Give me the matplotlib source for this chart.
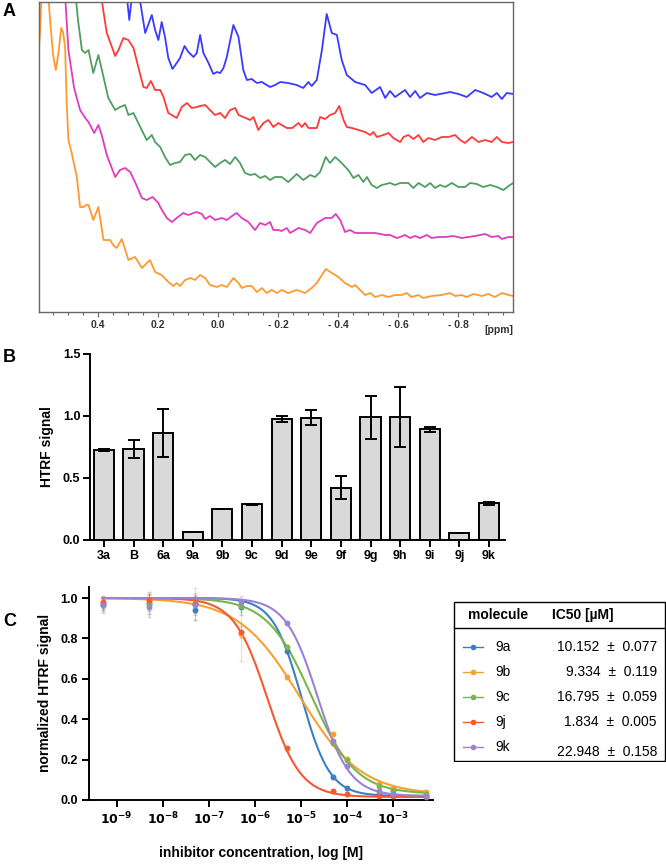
import matplotlib
matplotlib.use('Agg')
import matplotlib.pyplot as plt
import numpy as np
from matplotlib.patches import Rectangle
from matplotlib.lines import Line2D
from matplotlib.ticker import FixedLocator, MultipleLocator

plt.rcParams['font.family'] = ['Liberation Sans', 'DejaVu Sans']

# ---------------- Panel A: NMR spectra (ppm, intensity a.u.) ----------------
blue_ppm = [0.310, 0.296, 0.282, 0.266, 0.243, 0.221, 0.210, 0.199, 0.188, 0.177, 0.166, 0.152, 0.138, 0.127,
            0.112, 0.099, 0.082, 0.071, 0.060, 0.049, 0.032, 0.016, 0.004, -0.007, -0.018, -0.029, -0.051,
            -0.068, -0.084, -0.096, -0.112, -0.129, -0.146, -0.162, -0.173, -0.190, -0.207, -0.233, -0.262,
            -0.284, -0.301, -0.312, -0.329, -0.346, -0.362, -0.379, -0.396, -0.412, -0.429, -0.457, -0.490,
            -0.512, -0.540, -0.557, -0.573, -0.590, -0.623, -0.640, -0.657, -0.673, -0.696, -0.723, -0.757,
            -0.773, -0.801, -0.829, -0.857, -0.884, -0.912, -0.929, -0.946, -0.962, -0.984]
blue_int = [332, 292, 332, 322, 279, 297, 282, 272, 290, 275, 254, 243, 249, 254,
            266, 260, 255, 259, 277, 259, 249, 238, 240, 239, 244, 255, 287,
            275, 242, 232, 233, 229, 230, 227, 225, 227, 230, 229, 227,
            224, 230, 226, 232, 262, 298, 279, 277, 252, 237, 230, 227,
            219, 225, 214, 221, 215, 222, 215, 221, 214, 219, 217, 219,
            220, 218, 215, 222, 219, 215, 219, 213, 219, 218]

red_ppm = [0.397, 0.383, 0.371, 0.343, 0.332, 0.316, 0.299, 0.282, 0.266, 0.249, 0.238, 0.224, 0.210, 0.193,
           0.182, 0.166, 0.149, 0.138, 0.121, 0.104, 0.088, 0.071, 0.060, 0.043, 0.027, 0.010, -0.007,
           -0.023, -0.040, -0.057, -0.068, -0.084, -0.107, -0.118, -0.134, -0.151, -0.168, -0.184, -0.201,
           -0.212, -0.229, -0.247, -0.268, -0.279, -0.290, -0.301, -0.329, -0.340, -0.357, -0.373, -0.390,
           -0.404, -0.418, -0.429, -0.446, -0.468, -0.490, -0.507, -0.518, -0.529, -0.551, -0.568, -0.584,
           -0.607, -0.618, -0.634, -0.651, -0.668, -0.684, -0.701, -0.723, -0.746, -0.768, -0.790, -0.807,
           -0.823, -0.846, -0.868, -0.890, -0.912, -0.929, -0.946, -0.968, -0.984]
red_int = [332, 302, 279, 256, 262, 274, 272, 264, 245, 225, 224, 231, 222, 222,
           215, 199, 196, 194, 205, 209, 204, 205, 206, 207, 202, 197, 199,
           194, 202, 204, 197, 195, 192, 195, 182, 189, 192, 185, 189,
           187, 184, 184, 189, 185, 189, 184, 184, 195, 193, 197, 199,
           206, 192, 185, 184, 182, 180, 177, 180, 175, 177, 179, 174,
           170, 175, 177, 173, 177, 170, 174, 172, 175, 175, 177, 172,
           169, 175, 170, 172, 170, 175, 170, 169, 170]

green_ppm = [0.480, 0.467, 0.454, 0.443, 0.432, 0.416, 0.399, 0.382, 0.366, 0.343, 0.327, 0.310, 0.299, 0.282,
             0.266, 0.238, 0.221, 0.210, 0.193, 0.177, 0.160, 0.143, 0.127, 0.110, 0.093, 0.077, 0.060,
             0.043, 0.027, 0.010, -0.007, -0.023, -0.040, -0.057, -0.073, -0.090, -0.107, -0.123, -0.140,
             -0.157, -0.173, -0.190, -0.212, -0.234, -0.262, -0.284, -0.307, -0.323, -0.340, -0.359, -0.373,
             -0.390, -0.412, -0.434, -0.451, -0.468, -0.484, -0.496, -0.512, -0.529, -0.546, -0.573, -0.590,
             -0.607, -0.634, -0.651, -0.668, -0.690, -0.707, -0.723, -0.740, -0.757, -0.779, -0.801, -0.823,
             -0.840, -0.862, -0.884, -0.907, -0.929, -0.951, -0.973, -0.984]
green_int = [332, 292, 262, 259, 262, 239, 257, 235, 214, 202, 205, 207, 197, 199,
             189, 172, 177, 170, 165, 155, 147, 149, 150, 157, 158, 152, 157,
             155, 150, 145, 149, 152, 148, 155, 149, 139, 137, 138, 134,
             136, 132, 135, 135, 130, 138, 132, 137, 135, 140, 155, 149,
             155, 149, 142, 134, 137, 130, 135, 127, 124, 127, 129, 127,
             129, 129, 124, 129, 125, 129, 124, 127, 125, 129, 125, 125,
             129, 128, 125, 127, 125, 122, 127, 129]

mag_ppm = [0.513, 0.499, 0.480, 0.460, 0.443, 0.432, 0.413, 0.399, 0.388, 0.371, 0.343, 0.327, 0.310, 0.293,
           0.277, 0.254, 0.238, 0.218, 0.199, 0.193, 0.171, 0.154, 0.138, 0.116, 0.099, 0.082, 0.071,
           0.054, 0.043, 0.027, 0.010, -0.012, -0.029, -0.051, -0.062, -0.079, -0.101, -0.123, -0.140,
           -0.157, -0.173, -0.184, -0.201, -0.212, -0.229, -0.240, -0.268, -0.290, -0.307, -0.329, -0.357,
           -0.379, -0.392, -0.407, -0.423, -0.440, -0.457, -0.490, -0.523, -0.557, -0.573, -0.596, -0.607,
           -0.623, -0.640, -0.657, -0.673, -0.696, -0.712, -0.734, -0.757, -0.784, -0.812, -0.834, -0.857,
           -0.890, -0.912, -0.934, -0.946, -0.968, -0.984]
mag_int = [332, 262, 224, 202, 194, 190, 179, 187, 177, 157, 135, 142, 144, 140,
           130, 114, 112, 115, 109, 105, 94, 90, 94, 99, 97, 99, 100,
           98, 93, 96, 92, 94, 92, 97, 99, 94, 90, 82, 89,
           87, 90, 82, 82, 81, 84, 79, 84, 82, 79, 89, 94,
           94, 98, 92, 80, 82, 79, 79, 79, 77, 77, 74, 75,
           77, 74, 76, 74, 77, 74, 75, 75, 76, 74, 75, 76,
           78, 75, 76, 73, 75, 75]

orange_ppm = [0.599, 0.593, 0.587, 0.570, 0.560, 0.550, 0.541, 0.533, 0.523, 0.517, 0.510, 0.505, 0.499, 0.488,
              0.471, 0.460, 0.449, 0.440, 0.432, 0.416, 0.399, 0.382, 0.360, 0.350, 0.338, 0.321, 0.299,
              0.277, 0.254, 0.227, 0.210, 0.188, 0.166, 0.149, 0.138, 0.127, 0.110, 0.093, 0.077, 0.060,
              0.043, 0.027, 0.004, -0.012, -0.029, -0.051, -0.068, -0.079, -0.096, -0.112, -0.129, -0.146,
              -0.162, -0.179, -0.196, -0.212, -0.234, -0.262, -0.290, -0.312, -0.329, -0.346, -0.359, -0.379,
              -0.401, -0.423, -0.446, -0.457, -0.473, -0.490, -0.507, -0.523, -0.546, -0.568, -0.590, -0.611,
              -0.629, -0.644, -0.668, -0.684, -0.712, -0.746, -0.773, -0.790, -0.812, -0.829, -0.851, -0.879,
              -0.901, -0.923, -0.946, -0.968, -0.984]
orange_int = [256, 282, 332, 332, 292, 257, 242, 257, 284, 280, 265, 212, 172, 159,
              135, 105, 105, 107, 107, 92, 105, 72, 72, 67, 64, 73, 52,
              55, 44, 52, 40, 37, 30, 26, 29, 26, 32, 34, 32, 37,
              34, 27, 25, 27, 25, 34, 29, 24, 26, 26, 20, 24,
              19, 22, 19, 22, 19, 22, 19, 24, 29, 37, 43, 39,
              35, 29, 25, 27, 22, 17, 19, 15, 17, 15, 17, 17,
              19, 15, 17, 14, 16, 17, 19, 16, 17, 15, 18, 16,
              18, 15, 19, 17, 16]

# ---------------- Panel B: HTRF bar chart ----------------
b_labels = ['3a', 'B', '6a', '9a', '9b', '9c', '9d', '9e', '9f', '9g', '9h', '9i', '9j', '9k']
b_values = [0.726, 0.734, 0.865, 0.067, 0.247, 0.288, 0.973, 0.987, 0.422, 0.989, 0.989, 0.892, 0.059, 0.296]
b_errors = [0.010, 0.073, 0.195, 0.0, 0.0, 0.006, 0.025, 0.063, 0.094, 0.173, 0.242, 0.019, 0.0, 0.010]

# ---------------- Panel C: dose-response ----------------
molecules = ['9a', '9b', '9c', '9j', '9k']
conc_M = [5e-10, 5e-9, 5e-8, 5e-7, 5e-6, 5e-5, 1e-4, 5e-4, 1e-3, 5e-3]
resp_9a = [0.965, 0.970, 0.940, 0.955, 0.740, 0.115, 0.060, 0.030, 0.050, 0.020]
resp_9b = [0.975, 0.980, 0.970, 0.820, 0.610, 0.325, 0.205, 0.080, 0.060, 0.040]
resp_9c = [0.970, 0.975, 0.975, 0.960, 0.755, 0.280, 0.200, 0.070, 0.050, 0.030]
resp_9j = [0.980, 0.990, 0.970, 0.830, 0.255, 0.045, 0.030, 0.020, 0.020, 0.015]
resp_9k = [0.965, 0.955, 0.965, 0.980, 0.875, 0.290, 0.170, 0.045, 0.030, 0.020]
err_9a = [0.03, 0.05, 0.05, 0.04, 0.01, 0.01, 0.01, 0.01, 0.01, 0.01]
err_9b = [0.03, 0.04, 0.08, 0.13, 0.01, 0.01, 0.01, 0.01, 0.01, 0.01]
err_9c = [0.03, 0.04, 0.05, 0.03, 0.01, 0.01, 0.01, 0.01, 0.01, 0.01]
err_9j = [0.03, 0.04, 0.04, 0.03, 0.01, 0.01, 0.01, 0.01, 0.01, 0.01]
err_9k = [0.04, 0.05, 0.05, 0.03, 0.01, 0.01, 0.01, 0.01, 0.01, 0.01]
ic50_uM = [10.152, 9.334, 16.795, 1.834, 22.948]
ic50_sd = [0.077, 0.119, 0.059, 0.005, 0.158]
hill = [1.4, 0.65, 0.9, 1.2, 1.25]
top = [1.0, 1.0, 1.0, 1.0, 1.0]
bottom = [0.02, 0.025, 0.03, 0.015, 0.02]

W, H = 666, 864
fig = plt.figure(figsize=(W / 100, H / 100), dpi=100)


def fx(px):
    return px / W


def fy(py):
    return 1 - py / H


# ---------- Panel A ----------
axA = fig.add_axes([fx(39), fy(312), fx(513 - 39), (312 - 2) / H])
trace_cols = ['#3a3aff', '#ff3a3a', '#4f9e62', '#e03cc0', '#ff9a30']
for (xp, yi), c in zip([(blue_ppm, blue_int), (red_ppm, red_int), (green_ppm, green_int),
                        (mag_ppm, mag_int), (orange_ppm, orange_int)], trace_cols):
    axA.plot(xp, yi, color=c, lw=1.3, solid_joinstyle='round', solid_capstyle='round')
axA.set_xlim(0.597, -0.983)
axA.set_ylim(0, 310)
axA.set_yticks([])
for s in axA.spines.values():
    s.set_color('#666666')
    s.set_linewidth(1.0)
maj = [0.4, 0.2, 0.0, -0.2, -0.4, -0.6, -0.8]
axA.set_xticks(maj)
axA.set_xticklabels(['0.4', '0.2', '0.0', '- 0.2', '- 0.4', '- 0.6', '- 0.8'],
                    fontsize=7.5, fontweight='bold', color='#333333')
axA.xaxis.set_minor_locator(MultipleLocator(0.05))
axA.tick_params(axis='x', which='major', length=3.5, width=0.8, color='#666666', pad=2.5)
axA.tick_params(axis='x', which='minor', length=2.5, width=0.8, color='#666666')
axA.text(-0.935, -0.042, '[ppm]', transform=axA.get_xaxis_transform(), ha='center', va='top',
         fontsize=7.5, fontweight='bold', color='#333333')
fig.text(fx(3), fy(12), 'A', fontsize=13, fontweight='bold', va='center', ha='left')

# ---------- Panel B ----------
axB = fig.add_axes([fx(90), fy(540), fx(505 - 90), (540 - 354) / H])
xb = np.arange(len(b_labels))
axB.bar(xb, b_values, width=0.68, color='#d9d9d9', edgecolor='black', linewidth=1.4, zorder=2)
axB.errorbar(xb, b_values, yerr=b_errors, fmt='none', ecolor='black', elinewidth=1.4,
             capsize=4.5, capthick=1.4, zorder=3)
axB.set_xlim(-0.47, 13.54)
axB.set_ylim(0, 1.5)
axB.set_yticks([0, 0.5, 1.0, 1.5])
axB.set_yticklabels(['0.0', '0.5', '1.0', '1.5'], fontsize=9, fontweight='bold')
axB.set_xticks(xb)
axB.set_xticklabels(b_labels, fontsize=9, fontweight='bold')
axB.spines['top'].set_visible(False)
axB.spines['right'].set_visible(False)
axB.spines['left'].set_linewidth(1.4)
axB.spines['bottom'].set_linewidth(1.4)
axB.tick_params(length=5, width=1.4, pad=2)
axB.set_ylabel('HTRF signal', fontsize=10, fontweight='bold', labelpad=6)
fig.text(fx(3), fy(358), 'B', fontsize=13, fontweight='bold', va='center', ha='left')

# ---------- Panel C ----------
axC = fig.add_axes([fx(89), fy(800), fx(432.7 - 89), (800 - 586.7) / H])
mol_cols = ['#3b7fc4', '#f7a230', '#7ab648', '#f4592f', '#9b82d2']
resp = [resp_9a, resp_9b, resp_9c, resp_9j, resp_9k]
errs = [err_9a, err_9b, err_9c, err_9j, err_9k]
xfit = np.logspace(np.log10(conc_M[0]), np.log10(conc_M[-1]), 400)
for i in range(5):
    ic = ic50_uM[i] * 1e-6
    yfit = bottom[i] + (top[i] - bottom[i]) / (1 + (xfit / ic) ** hill[i])
    axC.plot(xfit, yfit, color=mol_cols[i], lw=1.5, zorder=3)
    axC.errorbar(conc_M, resp[i], yerr=errs[i], fmt='none', ecolor=mol_cols[i], alpha=0.35,
                 elinewidth=0.8, capsize=1.5, zorder=2)
    axC.plot(conc_M, resp[i], 'o', color=mol_cols[i], ms=3.2, zorder=4)
axC.set_xscale('log')
axC.set_xlim(10 ** -9.6, 10 ** -2.145)
axC.set_ylim(0, 1.056)
dec = [1e-9, 1e-8, 1e-7, 1e-6, 1e-5, 1e-4, 1e-3]
axC.xaxis.set_major_locator(FixedLocator(dec))
axC.xaxis.set_minor_locator(FixedLocator([]))
axC.set_xticklabels([r'$\mathbf{10^{-%d}}$' % k for k in range(9, 2, -1)], fontsize=9)
axC.set_yticks([0, 0.2, 0.4, 0.6, 0.8, 1.0])
axC.set_yticklabels(['0.0', '0.2', '0.4', '0.6', '0.8', '1.0'], fontsize=9, fontweight='bold')
axC.spines['top'].set_visible(False)
axC.spines['right'].set_visible(False)
axC.spines['left'].set_linewidth(1.4)
axC.spines['bottom'].set_linewidth(1.4)
axC.tick_params(length=5, width=1.4, pad=3)
axC.set_ylabel('normalized HTRF signal', fontsize=10, fontweight='bold', labelpad=6)
axC.set_xlabel('inhibitor concentration, log [M]', fontsize=10, fontweight='bold', labelpad=13)
fig.text(fx(3), fy(622), 'C', fontsize=13, fontweight='bold', va='center', ha='left')

# ---------- Legend table ----------
tax = fig.add_axes([fx(453), fy(762), fx(213), 161 / H])
tax.set_xlim(0, 213)
tax.set_ylim(161, 0)
tax.axis('off')
tax.add_patch(Rectangle((0.6, 0.6), 211.8, 159.8, fill=False, edgecolor='black', lw=1.0))
tax.plot([0.6, 212.4], [27, 27], color='black', lw=1.0)
tax.text(45, 14, 'molecule', ha='center', va='center', fontsize=10, fontweight='bold')
tax.text(130, 14, 'IC50 [µM]', ha='center', va='center', fontsize=10, fontweight='bold')
row_y = [46, 70.7, 95.7, 121.3, 146]
val_y = [46, 70.7, 95.7, 121.3, 151.5]
for i in range(5):
    tax.add_line(Line2D([10, 30], [row_y[i], row_y[i]], color=mol_cols[i], lw=1.0))
    tax.plot([20], [row_y[i]], 'o', color=mol_cols[i], ms=3)
    tax.text(42, row_y[i], molecules[i], ha='left', va='center', fontsize=10)
    tax.text(204, val_y[i], '%.3f  ±  %.3f' % (ic50_uM[i], ic50_sd[i]), ha='right', va='center',
             fontsize=10)

fig.savefig('out.png', dpi=100)
